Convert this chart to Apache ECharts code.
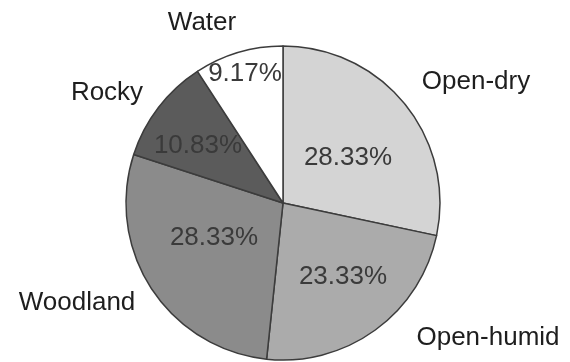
<!DOCTYPE html>
<html>
<head>
<meta charset="utf-8">
<style>
  html, body { margin: 0; padding: 0; background: #ffffff; }
  #chart { width: 570px; height: 362px; }
</style>
<script src="https://cdn.jsdelivr.net/npm/echarts@6/dist/echarts.min.js"></script>
</head>
<body>
<div id="chart"></div>
<script>
// Land-cover categories, clockwise from twelve o'clock
const categories = ['Open-dry', 'Open-humid', 'Woodland', 'Rocky', 'Water'];
// Share of each category, in percent
const shares = [28.33, 23.33, 28.33, 10.83, 9.17];

// Slice fills (greyscale)
const fills = ['#d4d4d4', '#ababab', '#8b8b8b', '#5b5b5b', '#ffffff'];
// Anchor points for the category names and the percentage labels
const nameAnchors = [[476, 82], [488, 338], [77, 303], [107, 93], [202, 23]];
const valueAnchors = [[348, 158], [343, 277], [214, 238], [198, 146], [245, 74]];

const center = [283, 203];
const radius = 157;
const font = 'Liberation Sans, Arial, Helvetica, sans-serif';

const sliceData = categories.map((name, i) => ({
  name: name,
  value: shares[i],
  itemStyle: { color: fills[i] }
}));

const chart = echarts.init(document.getElementById('chart'), null, { renderer: 'canvas' });

chart.setOption({
  backgroundColor: '#ffffff',
  animation: false,
  series: [
    {
      // Slices with category names outside
      type: 'pie',
      center: center,
      radius: radius,
      startAngle: 90,
      clockwise: true,
      silent: true,
      itemStyle: { borderColor: '#3c3c3c', borderWidth: 1.5 },
      label: {
        show: true,
        position: 'outside',
        formatter: '{b}',
        color: '#1e1e1e',
        fontFamily: font,
        fontSize: 26,
        overflow: 'none',
        width: 200
      },
      labelLine: { show: false },
      labelLayout: function (p) {
        const a = nameAnchors[p.dataIndex];
        return { x: a[0], y: a[1], align: 'center', verticalAlign: 'middle', hideOverlap: false };
      },
      data: sliceData
    },
    {
      // Transparent overlay carrying the percentage labels
      type: 'pie',
      center: center,
      radius: radius,
      startAngle: 90,
      clockwise: true,
      silent: true,
      itemStyle: { color: 'rgba(0,0,0,0)', borderWidth: 0 },
      label: {
        show: true,
        position: 'inside',
        formatter: function (p) { return p.value.toFixed(2) + '%'; },
        color: '#3a3a3a',
        fontFamily: font,
        fontSize: 26,
        overflow: 'none'
      },
      labelLine: { show: false },
      labelLayout: function (p) {
        const a = valueAnchors[p.dataIndex];
        return { x: a[0], y: a[1], align: 'center', verticalAlign: 'middle', hideOverlap: false };
      },
      data: categories.map((name, i) => ({ name: name, value: shares[i] }))
    }
  ]
});
</script>
</body>
</html>
